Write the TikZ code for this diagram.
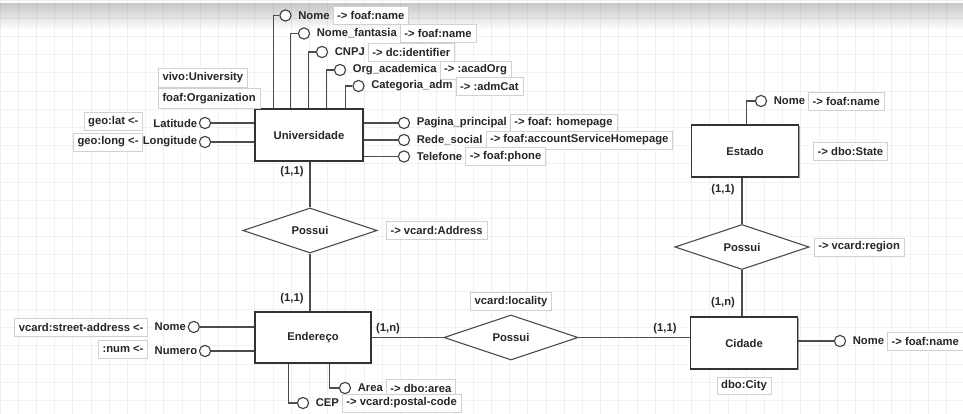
\documentclass[tikz,border=0pt]{standalone}
\usepackage{fontspec}
\setmainfont{Liberation Sans}
\usetikzlibrary{positioning, shapes.geometric, shadows, calc}
\tikzset{
    every node/.style={font=\fontsize{8}{9}\selectfont\bfseries, text=black!85},
    entity/.style={ % Boxes of the entities
        draw=black!80, line width=0.9pt, fill=white,
        minimum width=2.7cm, minimum height=1.3cm,
        drop shadow={shadow xshift=0.7pt, shadow yshift=-0.7pt, fill=black!45, opacity=0.8}
    },
    rel/.style={ % Relationship diamonds
        diamond, aspect=3, draw=black!70, line width=0.8pt, fill=white,
        minimum width=3.35cm, minimum height=1.125cm, inner sep=0pt
    },
    attr/.style={circle, draw=black!75, line width=0.8pt, fill=white, minimum size=0.28cm, inner sep=0pt},
    aname/.style={inner sep=1pt},
    map/.style={ % Vocabulary boxes
        draw=black!18, fill=white, inner xsep=3pt, inner ysep=2pt, minimum height=12.5pt
    },
    card/.style={inner sep=1pt},
    link/.style={draw=black!70, line width=0.8pt},
    gridline/.style={draw=black, draw opacity=0.05, line width=0.5pt}
}

\begin{document}
\begin{tikzpicture}[x=0.025cm, y=-0.025cm]
    \useasboundingbox (0,0) rectangle (963,414);
    % background
    \shade[top color=black!22, bottom color=white] (0,3) rectangle (963,30);
    \foreach \i in {0,...,53} \draw[gridline] (\i*18.2,0) -- (\i*18.2,414);
    \foreach \i in {0,...,23} \draw[gridline] (0,\i*18.2) -- (963,\i*18.2);

    % entities and relationships
    \node[entity]                                          (uni)   at (309,135)   {Universidade};
    \node[entity, minimum width=2.9cm, minimum height=1.275cm] (ender) at (313,337.5) {Endereço};
    \node[entity, minimum width=2.675cm]                   (cid)   at (744,343)   {Cidade};
    \node[entity, minimum width=2.675cm]                   (est)   at (745,151)   {Estado};
    \node[rel]  (pos1)  at (310,230.5) {Possui};
    \node[rel]  (pos2)  at (511,337.5) {Possui};
    \node[rel]  (pos3)  at (742,247)   {Possui};

    \draw[link] (pos1.north) -- (pos1.north |- uni.south)
                (pos1.south) -- (pos1.south |- ender.north)
                (ender.east) -- (pos2.west)
                (pos2.east) -- (pos2.east -| cid.west)
                (pos3.north) -- (pos3.north |- est.south)
                (pos3.south) -- (pos3.south |- cid.north);

    \node[card] (c1) at (292,172) {(1,1)};
    \node[card] (c2) at (292,299) {(1,1)};
    \node[card] (c3) at (388,329) {(1,n)};
    \node[card] (c4) at (665,329) {(1,1)};
    \node[card] (c5) at (723,190) {(1,1)};
    \node[card] (c6) at (723,303) {(1,n)};

    \node[map, minimum height=14pt, anchor=south west] (muni1) at (158,88) {vivo:University};
    \node[map, minimum height=14pt, anchor=north west] (muni2) at (158,88) {foaf:Organization};
    \node[map, right=6pt of pos1]   (mpos1) {-> vcard:Address};
    \node[map, above=3pt of pos2]   (mpos2) {vcard:locality};
    \node[map, right=3pt of pos3]   (mpos3) {-> vcard:region};
    \node[map, right=10pt of est]   (mest)  {-> dbo:State};
    \node[map, below=5pt of cid]    (mcid)  {dbo:City};

    % attributes of Universidade
    \node[attr] (u1) at (285.5,15.5) {};
    \node[aname, right=3.5pt of u1] (nu1) {Nome};
    \node[map, right=1pt of nu1]    (mu1) {-> foaf:name};
    \node[attr] (u2) at (304,33.5) {};
    \node[aname, right=3.5pt of u2] (nu2) {Nome\_fantasia};
    \node[map, right=1pt of nu2]    (mu2) {-> foaf:name};
    \node[attr] (u3) at (322,52) {};
    \node[aname, right=3.5pt of u3] (nu3) {CNPJ};
    \node[map, right=1pt of nu3]    (mu3) {-> dc:identifier};
    \node[attr] (u4) at (340,70) {};
    \node[aname, right=3.5pt of u4] (nu4) {Org\_academica};
    \node[map, right=1pt of nu4]    (mu4) {-> :acadOrg};
    \node[attr] (u5) at (358.5,86) {};
    \node[aname, right=3.5pt of u5] (nu5) {Categoria\_adm};
    \node[map, right=1pt of nu5]    (mu5) {-> :admCat};
    \draw[link] ($(uni.north west)+(19,0)$) |- (u1)
                ($(uni.north west)+(36,0)$) |- (u2)
                ($(uni.north west)+(54,0)$) |- (u3)
                ($(uni.north west)+(72,0)$) |- (u4)
                ($(uni.north west)+(91,0)$) |- (u5);

    \node[attr] (u6) at (205,123) {};
    \node[aname, left=0pt of u6]          (nu6) {Latitude};
    \node[map, anchor=east] (mu6) at (143,121.5) {geo:lat <-};
    \node[attr] (u7) at (205,142) {};
    \node[aname, left=0pt of u7]          (nu7) {Longitude};
    \node[map, anchor=east] (mu7) at (143,142) {geo:long <-};
    \draw[link] (u6) -- (u6 -| uni.west)
                (u7) -- (u7 -| uni.west);

    \node[attr] (u8) at (404,123) {};
    \node[aname, right=3.5pt of u8] (nu8)  {Pagina\_principal};
    \node[map, right=1pt of nu8]    (mu8)  {-> foaf: homepage};
    \node[attr] (u9) at (404,140) {};
    \node[aname, right=3.5pt of u9] (nu9)  {Rede\_social};
    \node[map, right=1pt of nu9]    (mu9)  {-> foaf:accountServiceHomepage};
    \node[attr] (u10) at (404,156.5) {};
    \node[aname, right=3.5pt of u10] (nu10) {Telefone};
    \node[map, right=1pt of nu10]    (mu10) {-> foaf:phone};
    \draw[link] (u8 -| uni.east) -- (u8)
                (u9 -| uni.east) -- (u9)
                (u10 -| uni.east) -- (u10);

    % attributes of Endereço
    \node[aname, anchor=west] (ne1) at (153,327) {Nome};
    \node[attr, right=0pt of ne1] (e1) {};
    \node[map, anchor=east] (me1) at (148,327) {vcard:street-address <-};
    \node[aname, anchor=west] (ne2) at (153,351) {Numero};
    \node[attr, right=0pt of ne2] (e2) {};
    \node[map, anchor=east] (me2) at (148,349) {:num <-};
    \draw[link] (e1) -- (e1 -| ender.west)
                (e2) -- (e2 -| ender.west);

    \node[attr] (e3) at (345,388) {};
    \node[aname, right=3.5pt of e3] (ne3) {Area};
    \node[map, right=1pt of ne3]    (me3) {-> dbo:area};
    \node[attr] (e4) at (303,403) {};
    \node[aname, right=3.5pt of e4] (ne4) {CEP};
    \node[map, right=1pt of ne4]    (me4) {-> vcard:postal-code};
    \draw[link] ($(ender.south west)+(75,0)$) |- (e3)
                ($(ender.south west)+(34,0)$) |- (e4);

    % attributes of Cidade and Estado
    \node[attr] (ci1) at (840,341) {};
    \node[aname, right=3.5pt of ci1] (nci1) {Nome};
    \node[map, right=1pt of nci1]    (mci1) {-> foaf:name};
    \draw[link] (ci1 -| cid.east) -- (ci1);

    \node[attr] (es1) at (761,101) {};
    \node[aname, right=3.5pt of es1] (nes1) {Nome};
    \node[map, right=1pt of nes1]    (mes1) {-> foaf:name};
    \draw[link] ($(est.north west)+(55.5,0)$) |- (es1);
\end{tikzpicture}
\end{document}
